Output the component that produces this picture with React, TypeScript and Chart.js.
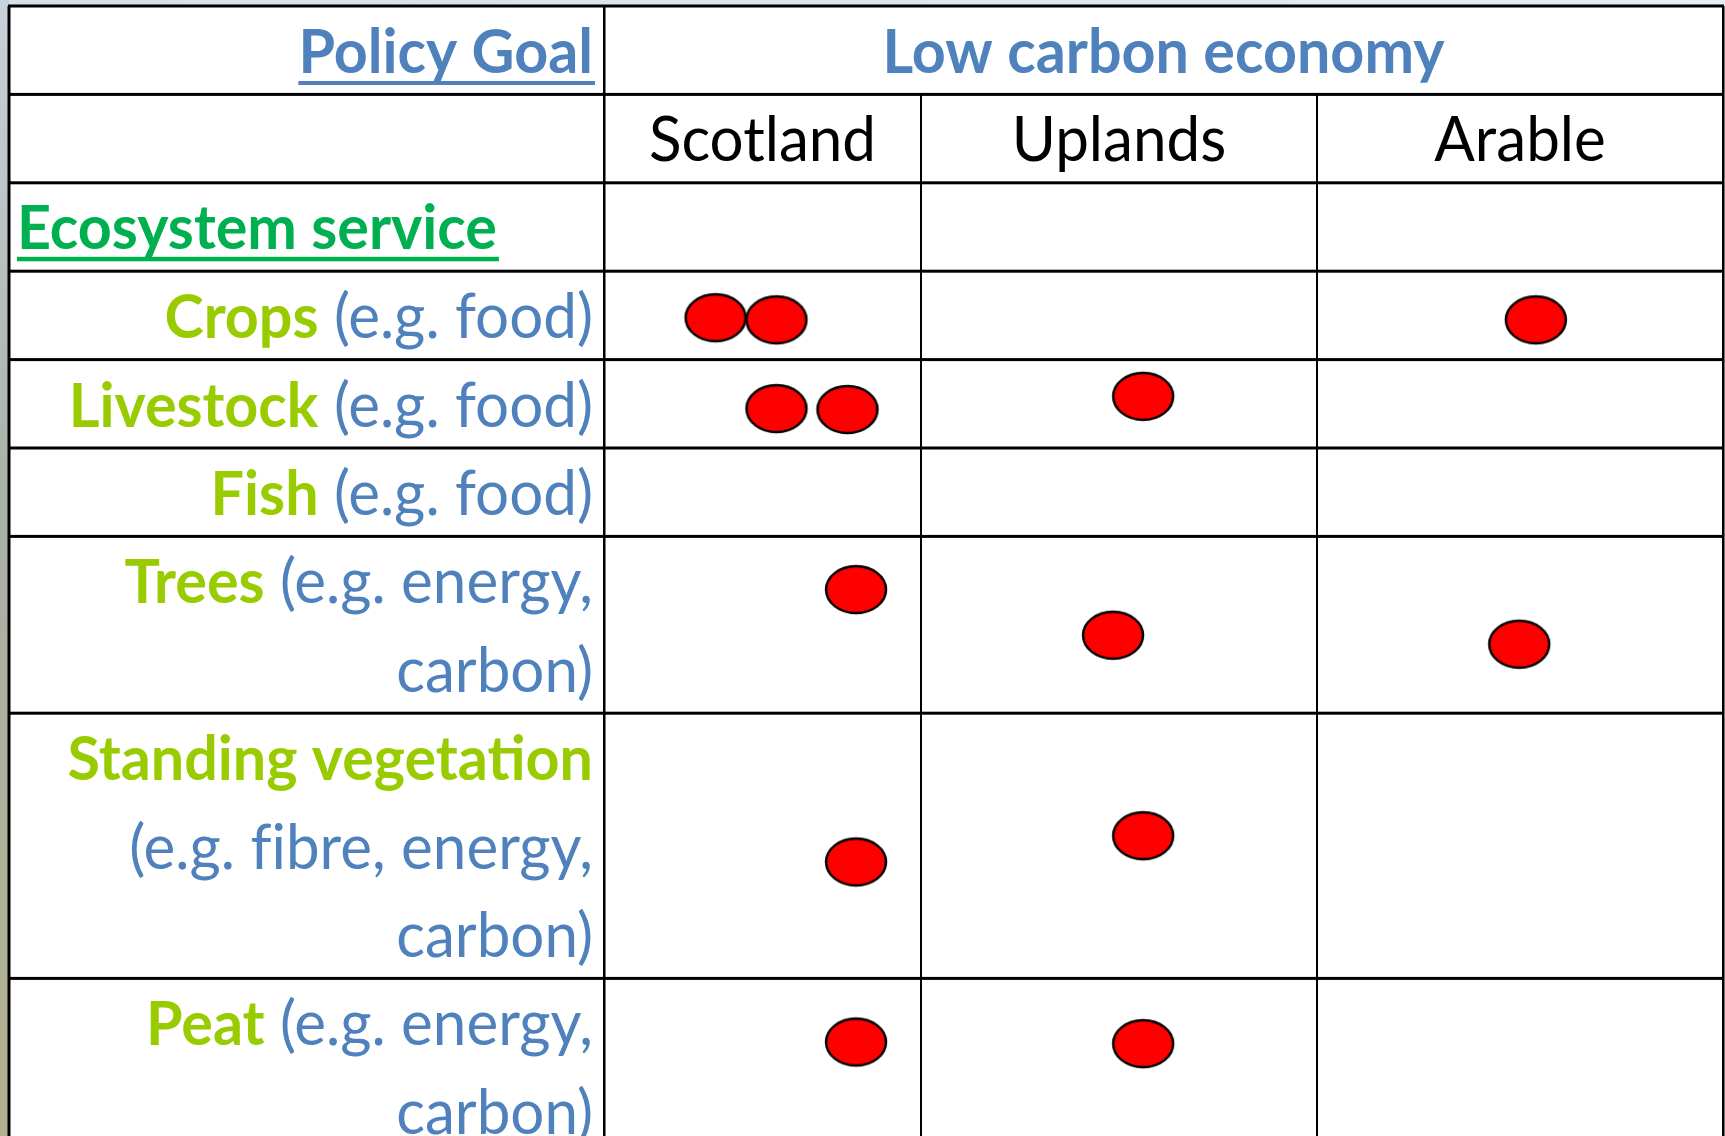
import React, { useEffect, useRef } from "react";
import { Chart, registerables } from "chart.js";

Chart.register(...registerables);

// ---------- data ----------
const policyGoal = "Policy Goal";
const goalName = "Low carbon economy";
const serviceHeader = "Ecosystem service";
const regions = ["Scotland", "Uplands", "Arable"];
const serviceNames = ["Crops", "Livestock", "Fish", "Trees", "Standing vegetation", "Peat"];
// "\n" marks the line breaks of the label as seen in the reference
const serviceExamples = [
  " (e.g. food)",
  " (e.g. food)",
  " (e.g. food)",
  " (e.g. energy,\ncarbon)",
  "\n(e.g. fibre, energy,\ncarbon)",
  " (e.g. energy,\ncarbon)",
];
// each marker: which service row, which region column, and its relative place inside the cell
const dotService = ["Crops", "Crops", "Crops", "Livestock", "Livestock", "Livestock", "Trees", "Trees", "Trees", "Standing vegetation", "Standing vegetation", "Peat", "Peat"];
const dotRegion = ["Scotland", "Scotland", "Arable", "Scotland", "Scotland", "Uplands", "Scotland", "Uplands", "Arable", "Scotland", "Uplands", "Scotland", "Uplands"];
const dotAcross = [0.352, 0.544, 0.539, 0.544, 0.768, 0.561, 0.795, 0.485, 0.498, 0.795, 0.561, 0.795, 0.561];
const dotDown = [0.526, 0.55, 0.55, 0.554, 0.565, 0.416, 0.301, 0.559, 0.61, 0.561, 0.462, 0.36, 0.369];

// ---------- layout / style ----------
const W = 1725;
const H = 1136;
const colEdges = [9, 604, 921, 1317, 1723];
const tableTop = 6;
const lineUnit = 88.4;
const labelRight = 593;
const FONT = "Lato";
const FS = 62;
const SX_BOLD = 0.955; // horizontal squeeze to approximate Calibri widths
const SX_REG = 0.97;
const BLUE = "#4F81BD";
const LIME = "#99CC00";
const GREEN = "#00B050";

function rowLineCounts(): number[] {
  return serviceExamples.map((e) => e.split("\n").length);
}
function rowEdges(): number[] {
  const edges = [tableTop];
  let u = 0;
  const counts = [1, 1, 1, ...rowLineCounts()];
  for (const c of counts) {
    u += c;
    edges.push(tableTop + u * lineUnit);
  }
  return edges;
}

function makeEllipse(): HTMLCanvasElement {
  const c = document.createElement("canvas");
  c.width = 66;
  c.height = 53;
  const g = c.getContext("2d")!;
  g.beginPath();
  g.ellipse(33, 26.5, 30, 23.5, 0, 0, Math.PI * 2);
  g.fillStyle = "#FF0000";
  g.fill();
  g.lineWidth = 2.5;
  g.strokeStyle = "#000";
  g.stroke();
  return c;
}

type Run = { t: string; bold: boolean; color: string };

function fontOf(bold: boolean) {
  return `${bold ? "bold " : ""}${FS}px ${FONT}`;
}
// avoid the "fi" ligature that Calibri does not show
const shown = (t: string) => t.replace(/f(?=[il])/g, "f\u200C");
function runWidth(ctx: CanvasRenderingContext2D, r: Run) {
  ctx.font = fontOf(r.bold);
  return ctx.measureText(shown(r.t)).width * (r.bold ? SX_BOLD : SX_REG);
}
function drawRuns(ctx: CanvasRenderingContext2D, runs: Run[], x: number, y: number, align: "left" | "right" | "center", underline?: number) {
  const total = runs.reduce((s, r) => s + runWidth(ctx, r), 0);
  let start = align === "left" ? x : align === "right" ? x - total : x - total / 2;
  let cx = start;
  for (const r of runs) {
    const w = runWidth(ctx, r);
    ctx.save();
    ctx.font = fontOf(r.bold);
    ctx.fillStyle = r.color;
    ctx.textBaseline = "alphabetic";
    ctx.textAlign = "left";
    ctx.translate(cx, y);
    ctx.scale(r.bold ? SX_BOLD : SX_REG, 1);
    ctx.fillText(shown(r.t), 0, 0);
    ctx.restore();
    cx += w;
  }
  if (underline) {
    ctx.fillStyle = runs[0].color;
    ctx.fillRect(start, y + 8, total + 2, underline);
  }
}

const tablePlugin = {
  id: "tableGrid",
  beforeDatasetsDraw(chart: any) {
    const ctx: CanvasRenderingContext2D = chart.ctx;
    const xs = chart.scales.x;
    const ys = chart.scales.y;
    const px = (v: number) => xs.getPixelForValue(v);
    const py = (v: number) => ys.getPixelForValue(v);
    const rows = rowEdges();
    ctx.save();
    // backdrop outside the table
    const gTop = ctx.createLinearGradient(0, 0, W, 0);
    gTop.addColorStop(0, "#d6dfe8");
    gTop.addColorStop(1, "#e6edf3");
    ctx.fillStyle = gTop;
    ctx.fillRect(0, 0, W, H);
    const gLeft = ctx.createLinearGradient(0, 0, 0, H);
    gLeft.addColorStop(0, "#c8d2db");
    gLeft.addColorStop(0.45, "#a9b0a6");
    gLeft.addColorStop(1, "#b3b28e");
    ctx.fillStyle = gLeft;
    ctx.fillRect(0, 0, px(colEdges[0]), H);
    // table body
    ctx.fillStyle = "#ffffff";
    ctx.fillRect(px(colEdges[0]), py(rows[0]), px(colEdges[4]) - px(colEdges[0]), H);

    // grid lines
    ctx.fillStyle = "#000";
    rows.forEach((r) => ctx.fillRect(px(colEdges[0]) - 1, py(r) - 1.5, px(colEdges[4]) - px(colEdges[0]) + 2, 3));
    // vertical lines
    ctx.fillRect(px(colEdges[0]) - 1.5, py(rows[0]), 3, H);
    ctx.fillRect(px(colEdges[1]) - 1, py(rows[0]), 2.5, H);
    ctx.fillRect(px(colEdges[4]) - 1, py(rows[0]), 2.5, H);
    ctx.fillRect(px(colEdges[2]) - 1, py(rows[1]), 2, H);
    ctx.fillRect(px(colEdges[3]) - 1, py(rows[1]), 2, H);

    const base = 67;
    // header row
    drawRuns(ctx, [{ t: policyGoal, bold: true, color: BLUE }], px(labelRight), py(rows[0] + base), "right", 4);
    drawRuns(ctx, [{ t: goalName, bold: true, color: BLUE }], (px(colEdges[1]) + px(colEdges[4])) / 2, py(rows[0] + base), "center");
    // region row
    regions.forEach((r, i) => {
      drawRuns(ctx, [{ t: r, bold: false, color: "#000" }], (px(colEdges[i + 1]) + px(colEdges[i + 2])) / 2, py(rows[1] + base), "center");
    });
    // ecosystem service
    drawRuns(ctx, [{ t: serviceHeader, bold: true, color: GREEN }], px(17), py(rows[2] + base - 1), "left", 4.5);
    // services
    serviceNames.forEach((name, i) => {
      const lines = serviceExamples[i].split("\n");
      const top = rows[3 + i];
      lines.forEach((ln, k) => {
        const runs: Run[] = [];
        if (k === 0) runs.push({ t: name, bold: true, color: LIME });
        if (ln.length) runs.push({ t: ln, bold: false, color: BLUE });
        drawRuns(ctx, runs, px(labelRight), py(top + base + k * lineUnit), "right");
      });
    });
    ctx.restore();
  },
};

export default function App() {
  const ref = useRef<HTMLCanvasElement>(null);
  useEffect(() => {
    if (!ref.current) return;
    const rows = rowEdges();
    const pts = dotService.map((s, i) => {
      const r = serviceNames.indexOf(s);
      const c = regions.indexOf(dotRegion[i]);
      const top = rows[3 + r];
      const bottom = rows[4 + r];
      const left = colEdges[1 + c];
      const right = colEdges[2 + c];
      return { x: left + dotAcross[i] * (right - left), y: top + dotDown[i] * (bottom - top) };
    });
    const ell = makeEllipse();
    const chart = new Chart(ref.current, {
      type: "scatter",
      data: {
        datasets: [
          {
            label: "Contributes",
            data: pts,
            pointStyle: ell as any,
            pointRadius: 25,
            pointHoverRadius: 25,
            clip: false as any,
          },
        ],
      },
      options: {
        animation: false,
        responsive: false,
        events: [],
        layout: { padding: 0, autoPadding: false },
        plugins: { legend: { display: false }, tooltip: { enabled: false } },
        scales: {
          x: { type: "linear", min: 0, max: W, display: false },
          y: { type: "linear", min: 0, max: H, reverse: true, display: false },
        },
      },
      plugins: [tablePlugin],
    });
    return () => chart.destroy();
  }, []);
  return (
    <div style={{ position: "fixed", left: 0, top: 0, width: W, height: H }}>
      <canvas ref={ref} width={W} height={H} style={{ display: "block", width: W, height: H }} />
    </div>
  );
}
